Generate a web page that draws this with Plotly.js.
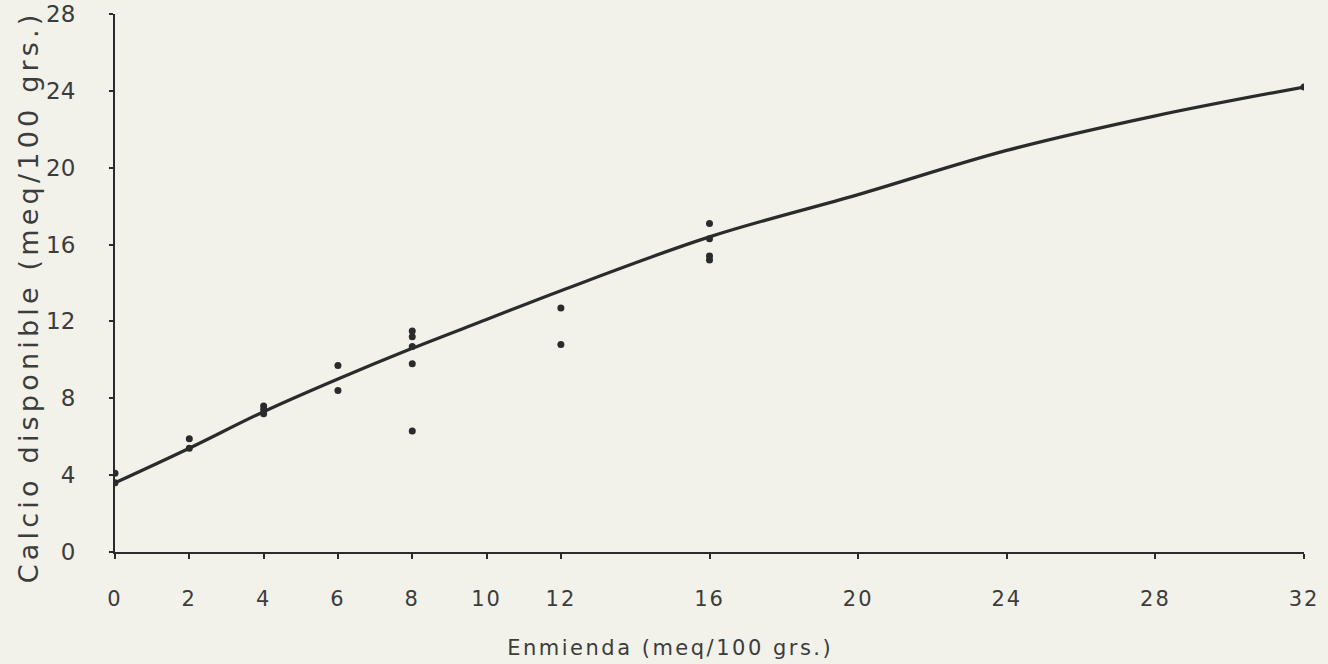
<!DOCTYPE html>
<html>
<head>
<meta charset="utf-8">
<script src="https://cdn.plot.ly/plotly-3.0.1.min.js"></script>
<style>
html,body{margin:0;padding:0;background:#f2f2ea;}
#chart{width:1328px;height:664px;}
#chart .xtick text{letter-spacing:2px;}
#chart g.annotation[data-index="0"] text{letter-spacing:2.5px;}
#chart g.annotation[data-index="1"] text{letter-spacing:4.2px;}
</style>
</head>
<body>
<div id="chart"></div>
<script>
// Observed points
const obsX = [0, 0, 2, 2, 4, 4, 4, 6, 6, 8, 8, 8, 8, 8, 12, 12, 16, 16, 16, 16, 32];
const obsY = [4.1, 3.6, 5.9, 5.4, 7.6, 7.4, 7.2, 9.7, 8.4, 11.5, 11.2, 10.7, 9.8, 6.3, 12.7, 10.8, 17.1, 16.3, 15.4, 15.2, 24.2];
// Fitted curve
const fitX = [0, 2, 4, 6, 8, 10, 12, 16, 20, 24, 28, 32];
const fitY = [3.6, 5.4, 7.3, 9.0, 10.6, 12.1, 13.6, 16.4, 18.6, 20.9, 22.7, 24.2];
// Tick labels
const xTicks = [0, 2, 4, 6, 8, 10, 12, 16, 20, 24, 28, 32];
const yTicks = [0, 4, 8, 12, 16, 20, 24, 28];

const ink = '#2b2b2b';
const txt = '#3c3c3c';
const fam = 'DejaVu Sans';

const traces = [
  {x: fitX, y: fitY, mode: 'lines', line: {color: ink, width: 3.2, shape: 'spline', smoothing: 1}, hoverinfo: 'skip'},
  {x: obsX, y: obsY, mode: 'markers', marker: {color: ink, size: 7}}
];

const layout = {
  width: 1328, height: 664,
  margin: {l: 115, r: 24, t: 14, b: 112},
  paper_bgcolor: '#f2f2ea', plot_bgcolor: 'rgba(0,0,0,0)',
  showlegend: false,
  font: {family: fam, size: 20, color: txt},
  xaxis: {
    range: [0, 32], tickvals: xTicks, ticktext: xTicks.map(String),
    showgrid: false, zeroline: false, showline: true, linecolor: ink, linewidth: 2,
    ticks: 'outside', ticklen: 5, tickcolor: ink, tickwidth: 2,
    ticklabelstandoff: 22, tickfont: {family: fam, size: 21, color: txt}
  },
  yaxis: {
    range: [0, 28], tickvals: yTicks, ticktext: yTicks.map(String),
    showgrid: false, zeroline: false, showline: true, linecolor: ink, linewidth: 2,
    ticks: 'outside', ticklen: 4, tickcolor: ink, tickwidth: 2,
    ticklabelstandoff: 29, tickfont: {family: fam, size: 23, color: txt}
  },
  annotations: [
    {text: 'Enmienda (meq/100 grs.)', xref: 'paper', yref: 'paper', x: (670-115)/1189, y: -(648-552)/538,
     xanchor: 'center', yanchor: 'middle', showarrow: false, font: {family: fam, size: 21, color: txt}},
    {text: 'Calcio disponible (meq/100 grs.)', xref: 'paper', yref: 'paper', x: (28-115)/1189, y: (552-297)/538,
     xanchor: 'center', yanchor: 'middle', textangle: -90, showarrow: false, font: {family: fam, size: 27, color: txt}}
  ]
};

Plotly.newPlot('chart', traces, layout, {displayModeBar: false, staticPlot: true});
</script>
</body>
</html>
